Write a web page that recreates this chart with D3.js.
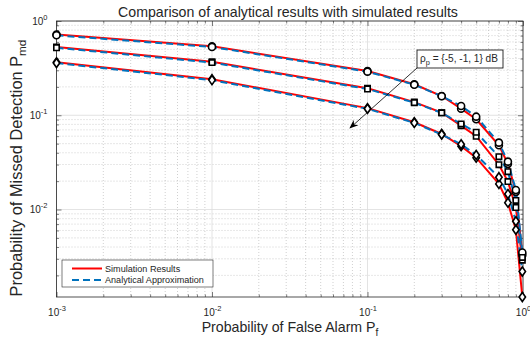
<!DOCTYPE html>
<html>
<head>
<meta charset="utf-8">
<script src="https://cdn.jsdelivr.net/npm/d3@7"></script>
<style>
  body { margin: 0; background: #fff; }
  text { font-family: "Liberation Sans", Arial, sans-serif; fill: #262626; }
</style>
</head>
<body>
<svg id="chart" width="530" height="341"></svg>
<script>
// Data
const pf = [0.001, 0.01, 0.1, 0.2, 0.3, 0.4, 0.5, 0.7, 0.8, 0.9, 0.99];

const simCircle = [0.72, 0.54, 0.295, 0.213, 0.160, 0.1175, 0.0907, 0.0481, 0.0305, 0.0154, 0.0033];
const anaCircle = [0.705, 0.53, 0.290, 0.211, 0.159, 0.1255, 0.0966, 0.0512, 0.0322, 0.0161, 0.0035];

const simSquare = [0.53, 0.37, 0.193, 0.138, 0.1066, 0.0776, 0.0599, 0.0299, 0.0198, 0.0105, 0.0029];
const anaSquare = [0.52, 0.362, 0.190, 0.136, 0.1060, 0.0810, 0.0660, 0.0364, 0.0252, 0.0125, 0.0031];

const simDiamond = [0.365, 0.241, 0.119, 0.0843, 0.0633, 0.0470, 0.0355, 0.0187, 0.0118, 0.0061, 0.00118];
const anaDiamond = [0.358, 0.236, 0.117, 0.0830, 0.0625, 0.0492, 0.0379, 0.0220, 0.0146, 0.0075, 0.0022];

const xMajor = [1e-3, 1e-2, 1e-1, 1];
const yMajor = [1e-2, 1e-1, 1];

const legendLabels = ["Simulation Results", "Analytical Approximation"];

// Layout
const svg = d3.select("#chart");
const pLeft = 56.5, pRight = 523, pTop = 21, pBottom = 297;

const xScale = d3.scaleLog().domain([1e-3, 1]).range([pLeft, pRight]);
const yScale = d3.scaleLog().domain([0.00118, 1]).range([pBottom, pTop]);

// minor tick values for log axes
function minors(domain) {
  const out = [];
  for (let e = -4; e <= 0; e++) {
    for (let m = 2; m <= 9; m++) {
      const v = m * Math.pow(10, e);
      if (v > domain[0] && v < domain[1]) out.push(v);
    }
  }
  return out;
}
const xMinor = minors(xScale.domain());
const yMinor = minors(yScale.domain());

// scale a text's font so its drawn width matches what the picture shows
function fitWidth(sel, target) {
  const w = sel.node().getBBox().width;
  const fs = +sel.attr("font-size");
  sel.attr("font-size", fs * target / w);
  sel.selectAll("tspan").each(function() {
    const t = d3.select(this);
    if (t.attr("font-size")) t.attr("font-size", +t.attr("font-size") * target / w);
  });
}

// Grid
const grid = svg.append("g");
grid.selectAll(".xmin").data(xMinor).enter().append("line")
  .attr("x1", d => xScale(d)).attr("x2", d => xScale(d))
  .attr("y1", pTop).attr("y2", pBottom)
  .attr("stroke", "#b0b0b0").attr("stroke-width", 0.6).attr("stroke-dasharray", "1,2");
grid.selectAll(".ymin").data(yMinor).enter().append("line")
  .attr("y1", d => yScale(d)).attr("y2", d => yScale(d))
  .attr("x1", pLeft).attr("x2", pRight)
  .attr("stroke", "#b0b0b0").attr("stroke-width", 0.6).attr("stroke-dasharray", "1,2");
grid.selectAll(".xmaj").data(xMajor).enter().append("line")
  .attr("x1", d => xScale(d)).attr("x2", d => xScale(d))
  .attr("y1", pTop).attr("y2", pBottom)
  .attr("stroke", "#dcdcdc").attr("stroke-width", 0.8);
grid.selectAll(".ymaj").data(yMajor).enter().append("line")
  .attr("y1", d => yScale(d)).attr("y2", d => yScale(d))
  .attr("x1", pLeft).attr("x2", pRight)
  .attr("stroke", "#dcdcdc").attr("stroke-width", 0.8);

// Axes: ticks point inward on all four sides
function supLabel(sel) {
  sel.each(function(d) {
    const t = d3.select(this);
    t.text(null);
    t.append("tspan").text("10");
    t.append("tspan").attr("dy", -5).attr("font-size", 7.5).text(Math.round(Math.log10(d)));
  });
}

const axisColor = "#262626";
function styleAxis(g) {
  g.select(".domain").remove();
  g.selectAll("line").attr("stroke", axisColor).attr("stroke-width", 0.6);
}

svg.append("g").attr("transform", `translate(0,${pBottom})`)
  .call(d3.axisBottom(xScale).tickValues(xMajor).tickSize(-5).tickPadding(12).tickFormat(() => ""))
  .call(styleAxis)
  .call(g => g.selectAll("text").attr("font-size", 10).attr("fill", axisColor).call(supLabel));
svg.append("g").attr("transform", `translate(0,${pBottom})`)
  .call(d3.axisBottom(xScale).tickValues(xMinor).tickSize(-2.5).tickFormat(() => ""))
  .call(styleAxis);
svg.append("g").attr("transform", `translate(0,${pTop})`)
  .call(d3.axisTop(xScale).tickValues(xMajor).tickSize(-5).tickFormat(() => ""))
  .call(styleAxis);
svg.append("g").attr("transform", `translate(0,${pTop})`)
  .call(d3.axisTop(xScale).tickValues(xMinor).tickSize(-2.5).tickFormat(() => ""))
  .call(styleAxis);

svg.append("g").attr("transform", `translate(${pLeft},0)`)
  .call(d3.axisLeft(yScale).tickValues(yMajor).tickSize(-5).tickPadding(9).tickFormat(() => ""))
  .call(styleAxis)
  .call(g => g.selectAll("text").attr("font-size", 10).attr("fill", axisColor).call(supLabel));
svg.append("g").attr("transform", `translate(${pLeft},0)`)
  .call(d3.axisLeft(yScale).tickValues(yMinor).tickSize(-2.5).tickFormat(() => ""))
  .call(styleAxis);
svg.append("g").attr("transform", `translate(${pRight},0)`)
  .call(d3.axisRight(yScale).tickValues(yMajor).tickSize(-5).tickFormat(() => ""))
  .call(styleAxis);
svg.append("g").attr("transform", `translate(${pRight},0)`)
  .call(d3.axisRight(yScale).tickValues(yMinor).tickSize(-2.5).tickFormat(() => ""))
  .call(styleAxis);

// Plot box
svg.append("rect")
  .attr("x", pLeft).attr("y", pTop)
  .attr("width", pRight - pLeft).attr("height", pBottom - pTop)
  .attr("fill", "none").attr("stroke", axisColor).attr("stroke-width", 0.8);

// Lines
const line = d3.line().x((d, i) => xScale(pf[i])).y(d => yScale(d));
const plot = svg.append("g");
const sims = [simCircle, simSquare, simDiamond];
const anas = [anaCircle, anaSquare, anaDiamond];
const shapes = ["circle", "square", "diamond"];

sims.forEach(s => {
  plot.append("path").datum(s).attr("d", line)
    .attr("fill", "none").attr("stroke", "#ff0000").attr("stroke-width", 2);
});
anas.forEach(s => {
  plot.append("path").datum(s).attr("d", line)
    .attr("fill", "none").attr("stroke", "#0072bd").attr("stroke-width", 2)
    .attr("stroke-dasharray", "7,4");
});

// Markers
function markerPath(shape) {
  if (shape === "diamond") return "M0,-4.5L3.2,0L0,4.5L-3.2,0Z";
  if (shape === "square") return "M-2.7,-2.7H2.7V2.7H-2.7Z";
  return "M3.5,0A3.5,3.5 0 1,1 -3.5,0A3.5,3.5 0 1,1 3.5,0Z";
}
[sims, anas].forEach(group => {
  group.forEach((s, k) => {
    plot.selectAll(null).data(s).enter().append("path")
      .attr("transform", (d, i) => `translate(${xScale(pf[i])},${yScale(d)})`)
      .attr("d", markerPath(shapes[k]))
      .attr("fill", "#fff").attr("stroke", "#000").attr("stroke-width", 1.6);
  });
});

// Annotation box with arrow
const ann = svg.append("g");
svg.append("defs").append("marker")
  .attr("id", "arrow").attr("viewBox", "0 0 10 10")
  .attr("refX", 9).attr("refY", 5)
  .attr("markerWidth", 9).attr("markerHeight", 9)
  .attr("markerUnits", "userSpaceOnUse")
  .attr("orient", "auto")
  .append("path").attr("d", "M0,1L10,5L0,9L3,5Z").attr("fill", "#000");
ann.append("line")
  .attr("x1", 417).attr("y1", 68).attr("x2", 350).attr("y2", 128)
  .attr("stroke", "#000").attr("stroke-width", 0.8)
  .attr("marker-end", "url(#arrow)");
ann.append("rect")
  .attr("x", 417).attr("y", 50).attr("width", 86).attr("height", 18)
  .attr("fill", "#fff").attr("stroke", "#000").attr("stroke-width", 0.8);
const at = ann.append("text").attr("x", 420).attr("y", 62).attr("font-size", 9.5).attr("fill", "#000");
at.append("tspan").text("ρ");
at.append("tspan").attr("dy", 3).attr("font-size", 7).text("p");
at.append("tspan").attr("dy", -3).text(" = {-5, -1, 1} dB");
fitWidth(at, 78);

// Legend
const leg = svg.append("g");
leg.append("rect")
  .attr("x", 62).attr("y", 260).attr("width", 151).attr("height", 27)
  .attr("fill", "#fff").attr("stroke", axisColor).attr("stroke-width", 0.6);
leg.append("line").attr("x1", 72).attr("x2", 102).attr("y1", 268.5).attr("y2", 268.5)
  .attr("stroke", "#ff0000").attr("stroke-width", 2);
leg.append("line").attr("x1", 72).attr("x2", 102).attr("y1", 280).attr("y2", 280)
  .attr("stroke", "#0072bd").attr("stroke-width", 2).attr("stroke-dasharray", "7,4");
const legText = leg.selectAll(".lt").data(legendLabels).enter().append("text")
  .attr("x", 105).attr("y", (d, i) => 271.5 + i * 11.5)
  .attr("font-size", 9).attr("fill", "#000").text(d => d);
fitWidth(legText.filter((d, i) => i === 1), 99);
legText.filter((d, i) => i === 0).attr("font-size", legText.filter((d, i) => i === 1).attr("font-size"));

// Title and axis labels
const title = svg.append("text").attr("x", 288).attr("y", 16.5).attr("text-anchor", "middle")
  .attr("font-size", 14).attr("fill", "#000")
  .text("Comparison of analytical results with simulated results");
fitWidth(title, 340);

const xl = svg.append("text").attr("x", 290).attr("y", 332).attr("text-anchor", "middle")
  .attr("font-size", 14);
xl.append("tspan").text("Probability of False Alarm P");
xl.append("tspan").attr("dy", 4).attr("font-size", 10).text("f");
fitWidth(xl, 177);

const yl = svg.append("text").attr("transform", "translate(22,168) rotate(-90)")
  .attr("text-anchor", "middle").attr("font-size", 14);
yl.append("tspan").text("Probability of Missed Detection P");
yl.append("tspan").attr("dy", 4).attr("font-size", 10).text("md");
fitWidth(yl, 257);
</script>
</body>
</html>
